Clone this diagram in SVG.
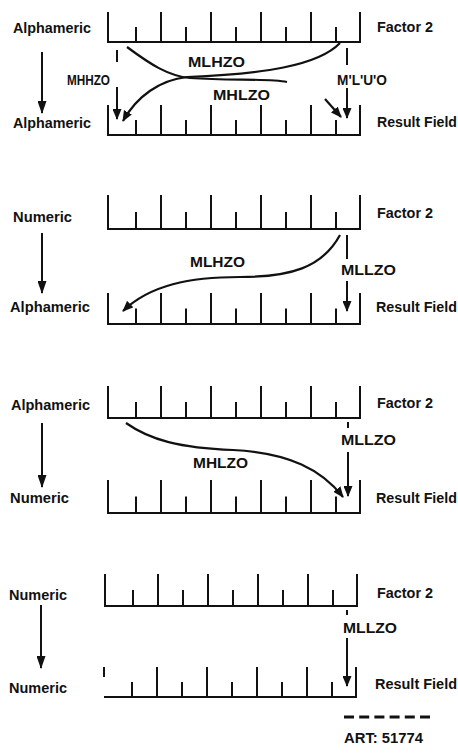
<svg xmlns="http://www.w3.org/2000/svg" xmlns:xlink="http://www.w3.org/1999/xlink" width="458" height="754" viewBox="0 0 458 754">
<style>
text{font-family:"Liberation Sans",Arial,sans-serif;font-weight:bold;font-size:14px;fill:#111}
.rl{fill:none;stroke:#111;stroke-width:2}
.cn{fill:none;stroke:#111;stroke-width:2}
.cv{fill:none;stroke:#111;stroke-width:2.2}
</style>
<defs>
<marker id="ah" viewBox="0 0 11 9" refX="10" refY="4.5" markerWidth="11" markerHeight="9" markerUnits="userSpaceOnUse" orient="auto"><path d="M0,0 L11,4.5 L0,9 z" fill="#111"/></marker>
<marker id="ahL" viewBox="0 0 13 9" refX="12" refY="4.5" markerWidth="13" markerHeight="9" markerUnits="userSpaceOnUse" orient="auto"><path d="M0,0 L13,4.5 L0,9 z" fill="#111"/></marker>
<path id="ruler" class="rl" d="M0,-32 V0 H252 V-32 M28,0 V-16 M53,0 V-32 M78,0 V-16 M103,0 V-32 M128,0 V-16 M153,0 V-32 M178,0 V-16 M203,0 V-32 M228,0 V-16"/>
</defs>
<rect width="458" height="754" fill="#fff"/>

<g id="panel1">
<g id="p1-factor"><use xlink:href="#ruler" transform="translate(108,42) scale(1,0.94)"/><text x="13" y="33" textLength="78" lengthAdjust="spacingAndGlyphs">Alphameric</text><text x="377" y="32" textLength="56" lengthAdjust="spacingAndGlyphs">Factor 2</text></g>
<g id="p1-result"><use xlink:href="#ruler" transform="translate(108,135) scale(1,0.94)"/><text x="13" y="128" textLength="78" lengthAdjust="spacingAndGlyphs">Alphameric</text><text x="377" y="127" textLength="80" lengthAdjust="spacingAndGlyphs">Result Field</text></g>
</g>

<g id="panel2">
<g id="p2-factor"><use xlink:href="#ruler" transform="translate(108,229) scale(1,1.06)"/><text x="13" y="222" textLength="59" lengthAdjust="spacingAndGlyphs">Numeric</text><text x="377" y="218" textLength="56" lengthAdjust="spacingAndGlyphs">Factor 2</text></g>
<g id="p2-result"><use xlink:href="#ruler" transform="translate(108,324) scale(1,0.97)"/><text x="10" y="312" textLength="80" lengthAdjust="spacingAndGlyphs">Alphameric</text><text x="376" y="312" textLength="81" lengthAdjust="spacingAndGlyphs">Result Field</text></g>
</g>

<g id="panel3">
<g id="p3-factor"><use xlink:href="#ruler" transform="translate(108,418)"/><text x="11" y="410" textLength="79" lengthAdjust="spacingAndGlyphs">Alphameric</text><text x="377" y="408" textLength="56" lengthAdjust="spacingAndGlyphs">Factor 2</text></g>
<g id="p3-result"><use xlink:href="#ruler" transform="translate(108,513) scale(1,1.03)"/><text x="10" y="503" textLength="59" lengthAdjust="spacingAndGlyphs">Numeric</text><text x="376" y="503" textLength="81" lengthAdjust="spacingAndGlyphs">Result Field</text></g>
</g>

<g id="panel4">
<g id="p4-factor"><use xlink:href="#ruler" transform="translate(105,606)"/><text x="9" y="600" textLength="58" lengthAdjust="spacingAndGlyphs">Numeric</text><text x="377" y="598" textLength="56" lengthAdjust="spacingAndGlyphs">Factor 2</text></g>
<g id="p4-result"><path class="rl" d="M104,667 V677 M104,697 H356 V667 M132,697 V682 M157,697 V667 M182,697 V682 M207,697 V667 M232,697 V682 M257,697 V667 M282,697 V682 M307,697 V667 M332,697 V682"/><text x="9" y="693" textLength="58" lengthAdjust="spacingAndGlyphs">Numeric</text><text x="375" y="689" textLength="82" lengthAdjust="spacingAndGlyphs">Result Field</text></g>
</g>

<g id="footer">
<line x1="344" y1="717" x2="430" y2="717" stroke="#111" stroke-width="3" stroke-dasharray="10 5.2"/>
<text x="344" y="743" font-size="15" textLength="79" lengthAdjust="spacingAndGlyphs">ART: 51774</text>
</g>

<g id="connectors">
<line class="cn" x1="42" y1="52" x2="42" y2="113" marker-end="url(#ahL)"/>
<line class="cn" x1="42" y1="233" x2="42" y2="293" marker-end="url(#ahL)"/>
<line class="cn" x1="42" y1="423" x2="42" y2="487" marker-end="url(#ahL)"/>
<line class="cn" x1="41" y1="605" x2="41" y2="668" marker-end="url(#ahL)"/>

<line class="cn" x1="117" y1="50" x2="117" y2="62"/>
<line class="cn" x1="117" y1="87" x2="117" y2="119" marker-end="url(#ah)"/>
<line class="cn" x1="347" y1="48" x2="347" y2="65"/>
<line class="cn" x1="347" y1="88" x2="347" y2="118" marker-end="url(#ah)"/>
<path class="cv" d="M340,43 C318,66 262,74 187,77 C160,80 137,96 123,121" marker-end="url(#ah)"/>
<path class="cv" d="M127,47 C150,64 168,76 190,78 C230,81 268,78 287,82"/>
<line class="cv" x1="325" y1="99" x2="341" y2="117" marker-end="url(#ah)"/>
<text x="188" y="67" textLength="57" lengthAdjust="spacingAndGlyphs">MLHZO</text>
<text x="67" y="85" textLength="43" lengthAdjust="spacingAndGlyphs">MHHZO</text>
<text x="213" y="100" textLength="57" lengthAdjust="spacingAndGlyphs">MHLZO</text>
<text x="337" y="85" textLength="50" lengthAdjust="spacingAndGlyphs">M'L'U'O</text>

<path class="cv" d="M340,235 C322,268 290,277 240,277 C190,277 150,285 123,311" marker-end="url(#ah)"/>
<line class="cn" x1="347" y1="235" x2="347" y2="259"/>
<line class="cn" x1="347" y1="281" x2="347" y2="311" marker-end="url(#ah)"/>
<text x="190" y="267" textLength="55" lengthAdjust="spacingAndGlyphs">MLHZO</text>
<text x="341" y="275" textLength="55" lengthAdjust="spacingAndGlyphs">MLLZO</text>

<path class="cv" d="M126,423 C150,440 180,448 233,450 C290,453 322,470 343,497" marker-end="url(#ah)"/>
<line class="cn" x1="348" y1="422" x2="348" y2="428"/>
<line class="cn" x1="348" y1="452" x2="348" y2="496" marker-end="url(#ah)"/>
<text x="193" y="468" textLength="55" lengthAdjust="spacingAndGlyphs">MHLZO</text>
<text x="341" y="445" textLength="55" lengthAdjust="spacingAndGlyphs">MLLZO</text>

<line class="cn" x1="347" y1="610" x2="347" y2="615"/>
<line class="cn" x1="347" y1="638" x2="347" y2="686" marker-end="url(#ah)"/>
<text x="343" y="633" textLength="54" lengthAdjust="spacingAndGlyphs">MLLZO</text>
</g>
</svg>
